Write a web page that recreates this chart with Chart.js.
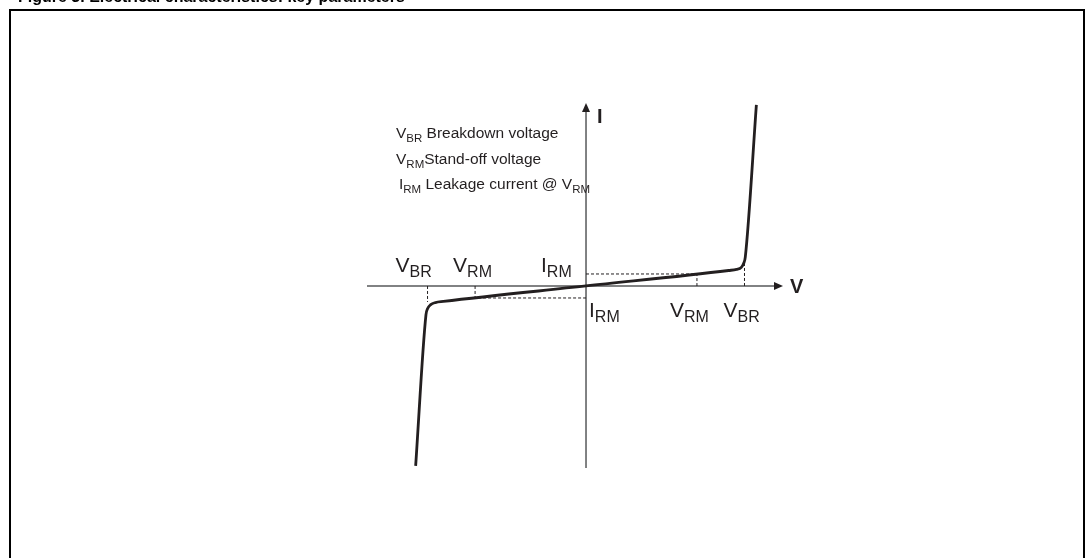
<!DOCTYPE html>
<html>
<head>
<meta charset="utf-8">
<script src="https://cdn.jsdelivr.net/npm/chart.js@4"></script>
<style>
  html, body { margin: 0; padding: 0; background: #fff; }
  #wrap { width: 1086px; height: 558px; }
</style>
</head>
<body>
<div id="wrap"><canvas id="ivChart" width="1086" height="558"></canvas></div>
<script>
// =====================
// Data (V in volts-ish units, I in units of IRM)
// =====================
const VBR = 10;
const VRM = 7;
const IRM = 1;

// I-V curve of a bidirectional TVS
const curveV = [-10.75, -10.1, -10.0, -9.8, -9.5, -9.0, 0, 9.0, 9.5, 9.8, 9.95, 10.05, 10.75];
const curveI = [-15.0, -2.4, -1.9, -1.55, -1.38, -1.29, 0, 1.29, 1.38, 1.55, 1.9, 2.4, 15.1];

// where the dashed guides at VBR meet the curve
const kneeI = [-1.33, 1.9];

// axis extents
const vRange = [-13.82, 12.43];
const iRange = [-15.17, 15.25];

const title = 'Figure 3. Electrical characteristics: key parameters';
const legendLines = [
  ['V', 'BR', ' Breakdown voltage'],
  ['V', 'RM', 'Stand-off voltage'],
  ['I', 'RM', ' Leakage current @ V', 'RM']
];

const ink = '#231f20';
const FONT = '"Liberation Sans", Arial, Helvetica, sans-serif';

const toPoints = (xs, ys) => xs.map((x, i) => ({ x, y: ys[i] }));

const dashed = (pts) => ({
  data: pts,
  showLine: true,
  borderColor: ink,
  borderWidth: 1,
  borderDash: [3, 2],
  pointRadius: 0,
  tension: 0
});

// =====================
// Text helpers
// =====================
// parts alternate: main, sub, main, sub ...
const drawSub = (ctx, parts, x, y, size = 21, subSize = 16) => {
  let cx = x;
  parts.forEach((p, i) => {
    const isSub = i % 2 === 1;
    ctx.font = (isSub ? subSize : size) + 'px ' + FONT;
    ctx.fillText(p, cx, isSub ? y + Math.round(size * 0.25) : y);
    cx += ctx.measureText(p).width;
  });
};

// =====================
// Axes, arrows, labels, frame
// =====================
const decorPlugin = {
  id: 'decor',
  beforeDatasetsDraw(chart) {
    const { ctx, chartArea: a, scales: { x, y } } = chart;
    const x0 = x.getPixelForValue(0);
    const y0 = y.getPixelForValue(0);
    ctx.save();
    ctx.strokeStyle = '#58595b';
    ctx.fillStyle = ink;
    ctx.lineWidth = 1.5;
    ctx.beginPath();
    ctx.moveTo(a.left, y0);
    ctx.lineTo(a.right - 6, y0);
    ctx.moveTo(x0, a.bottom);
    ctx.lineTo(x0, a.top + 6);
    ctx.stroke();
    // arrow heads
    ctx.beginPath();
    ctx.moveTo(a.right, y0);
    ctx.lineTo(a.right - 9, y0 - 4);
    ctx.lineTo(a.right - 9, y0 + 4);
    ctx.closePath();
    ctx.fill();
    ctx.beginPath();
    ctx.moveTo(x0, a.top);
    ctx.lineTo(x0 - 4, a.top + 9);
    ctx.lineTo(x0 + 4, a.top + 9);
    ctx.closePath();
    ctx.fill();
    ctx.restore();
  },
  afterDraw(chart) {
    const { ctx, chartArea: a, scales: { x, y } } = chart;
    const x0 = x.getPixelForValue(0);
    const y0 = y.getPixelForValue(0);
    ctx.save();
    ctx.fillStyle = ink;
    ctx.textBaseline = 'alphabetic';
    ctx.textAlign = 'left';

    // frame
    ctx.strokeStyle = '#000';
    ctx.lineWidth = 2;
    ctx.strokeRect(10, 10, 1074, 600);

    // title (cut off at the top of the picture)
    ctx.fillStyle = '#000';
    ctx.font = 'bold 16px ' + FONT;
    ctx.fillText(title, 18, 2);
    ctx.fillStyle = ink;

    // axis names
    ctx.font = 'bold 20px ' + FONT;
    ctx.fillText('I', x0 + 11, a.top + 20);
    ctx.fillText('V', a.right + 7, y0 + 7);

    // legend
    legendLines.forEach((parts, i) => {
      drawSub(ctx, parts, i === 2 ? 399 : 396, 138 + i * 25.5, 15.5, 11.5);
    });

    // point labels
    const top = y0 - 14;
    const bot = y0 + 31;
    drawSub(ctx, ['V', 'BR'], x.getPixelForValue(-VBR) - 32, top);
    drawSub(ctx, ['V', 'RM'], x.getPixelForValue(-VRM) - 22, top);
    drawSub(ctx, ['I', 'RM'], x0 - 45, top);
    drawSub(ctx, ['I', 'RM'], x0 + 3, bot);
    drawSub(ctx, ['V', 'RM'], x.getPixelForValue(VRM) - 27, bot);
    drawSub(ctx, ['V', 'BR'], x.getPixelForValue(VBR) - 21, bot);
    ctx.restore();
  }
};

// =====================
// Chart
// =====================
const ctx = document.getElementById('ivChart').getContext('2d');
new Chart(ctx, {
  type: 'scatter',
  data: {
    datasets: [
      {
        data: toPoints(curveV, curveI),
        showLine: true,
        borderColor: ink,
        borderWidth: 2.8,
        pointRadius: 0,
        cubicInterpolationMode: 'monotone'
      },
      dashed([{ x: -VBR, y: 0 }, { x: -VBR, y: kneeI[0] }]),
      dashed([{ x: -VRM, y: 0 }, { x: -VRM, y: -IRM }, { x: 0, y: -IRM }]),
      dashed([{ x: 0, y: IRM }, { x: VRM, y: IRM }, { x: VRM, y: 0 }]),
      dashed([{ x: VBR, y: 0 }, { x: VBR, y: kneeI[1] }])
    ]
  },
  options: {
    responsive: false,
    animation: false,
    layout: { padding: { left: 367, right: 303, top: 103, bottom: 90 } },
    plugins: { legend: { display: false }, tooltip: { enabled: false } },
    scales: {
      x: { type: 'linear', display: false, min: vRange[0], max: vRange[1] },
      y: { type: 'linear', display: false, min: iRange[0], max: iRange[1] }
    }
  },
  plugins: [decorPlugin]
});
</script>
</body>
</html>
